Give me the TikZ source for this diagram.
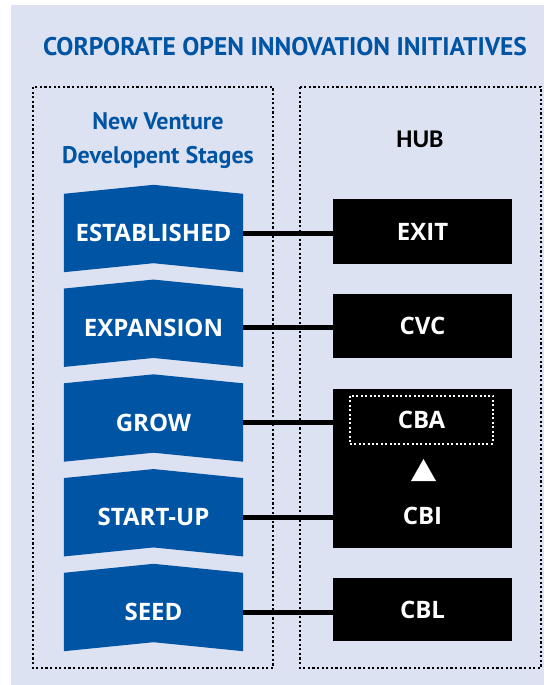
\documentclass[tikz,border=0pt]{standalone}
\usepackage{fontspec}
\usetikzlibrary{backgrounds,calc}
\newfontfamily\titlefont{PT Sans}
\newfontfamily\labelfont{Open Sans}
\newfontfamily\hubfont{Carlito}
\definecolor{bgl}{RGB}{221,226,242}
\definecolor{sblue}{RGB}{0,84,164}
\begin{document}
\begin{tikzpicture}[x=1pt,y=-1pt,
  dotbox/.style={line width=2.2pt, dash pattern=on 2.2pt off 2.4pt},
  stagebox/.style={minimum width=179pt, minimum height=78pt, inner sep=0pt, text=white,
    font=\labelfont\bfseries\fontsize{24}{28}\selectfont},
  hubbox/.style={fill=black, minimum width=179pt, inner sep=0pt, text=white,
    font=\labelfont\bfseries\fontsize{24}{28}\selectfont},
  hublabel/.style={inner sep=0pt, text=white, font=\labelfont\bfseries\fontsize{24}{28}\selectfont},
  chev/.style={fill=sblue},
  link/.style={line width=5pt}
]
\useasboundingbox (0,0) rectangle (544,685);
% title and headings
\node[text=sblue, font=\titlefont\bfseries\fontsize{25.5}{30}\selectfont] (title) at (285,47) {CORPORATE OPEN INNOVATION INITIATIVES};
\node[text=sblue, font=\titlefont\bfseries\fontsize{24}{34}\selectfont, align=center] (nv) at (158,141) {New Venture\\Developent Stages};
\node[font=\hubfont\bfseries\fontsize{25.5}{30}\selectfont] (hub) at (420,139) {HUB};
% stages
\node[stagebox] (s1) at (153.5,233) {ESTABLISHED};
\node[stagebox] (s2) at (153.5,327.75) {EXPANSION};
\node[stagebox] (s3) at (153.5,422.5) {GROW};
\node[stagebox] (s4) at (153.5,517.25) {START-UP};
\node[stagebox] (s5) at (153.5,612) {SEED};
% hub boxes
\node[hubbox, minimum height=65pt] (exit) at (422.5,231.5) {EXIT};
\node[hubbox, minimum height=64pt] (cvc) at (422.5,326) {CVC};
\node[hubbox, minimum height=159pt] (big) at (422.5,468) {};
\node[hubbox, minimum height=63pt] (cbl) at (422.5,609.5) {CBL};
\node[hublabel, draw=white, line width=2pt, dash pattern=on 2pt off 2.4pt, minimum width=143pt, minimum height=48pt] (cba) at (421.5,419.5) {CBA};
\node[hublabel] (cbi) at (422.5,516) {CBI};
\fill[white] (411,481) -- (423.5,459) -- (436,481) -- cycle;
\begin{scope}[on background layer]
  \fill[bgl] (11,5) rectangle (544,685);
  \draw[dotbox] (33,87) rectangle (273,668);
  \draw[dotbox] (300,87) rectangle (541,668);
  \foreach \s in {s1,s2,s3,s4,s5}{
    \fill[chev] (\s.north west) -- ($(\s.north)+(0,-9)$) -- (\s.north east)
      -- (\s.south east) -- ($(\s.south)+(0,-9)$) -- (\s.south west) -- cycle;
  }
\end{scope}
% connectors
\draw[link] (s1.east) -- (s1.east -| exit.west);
\draw[link] (s2.east) -- (s2.east -| cvc.west);
\draw[link] (s3.east) -- (s3.east -| big.west);
\draw[link] (s4.east) -- (s4.east -| big.west);
\draw[link] (s5.east) -- (s5.east -| cbl.west);
\end{tikzpicture}
\end{document}
